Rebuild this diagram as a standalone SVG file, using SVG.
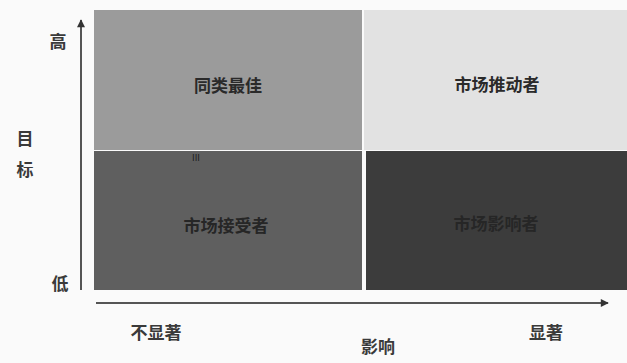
<svg xmlns="http://www.w3.org/2000/svg" width="627" height="363" viewBox="0 0 627 363">
<style>
text{font-family:"Noto Sans CJK SC","Noto Sans CJK JP",sans-serif;fill:#2a2a2a;}
.q{font-size:17px;font-weight:bold;text-anchor:middle;dominant-baseline:central;}
.a{font-size:17px;font-weight:bold;text-anchor:middle;dominant-baseline:central;fill:#3a3a3a;}
.ax{stroke:#555;stroke-width:2;fill:none;}
</style>
<defs>
<marker id="ah" viewBox="0 0 10 10" refX="9" refY="5" markerWidth="14" markerHeight="8" orient="auto" markerUnits="userSpaceOnUse">
<path d="M0,0 L10,5 L0,10 z" fill="#333"/>
</marker>
<marker id="ah2" viewBox="0 0 10 10" refX="9" refY="5" markerWidth="16" markerHeight="8" orient="auto" markerUnits="userSpaceOnUse">
<path d="M0,0 L10,5 L0,10 z" fill="#333"/>
</marker>
</defs>
<rect width="627" height="363" fill="#fafafa"/>
<g id="q-best">
<rect x="94" y="10" width="268" height="140" fill="#9b9b9b"/>
<text class="q" x="228" y="84">同类最佳</text>
</g>
<g id="q-driver">
<rect x="364" y="10" width="263" height="140" fill="#e2e2e2"/>
<text class="q" x="497" y="83">市场推动者</text>
</g>
<g id="q-acceptor">
<rect x="94" y="151" width="268" height="139" fill="#5f5f5f"/>
<text class="q" x="226" y="224" style="fill:#262626">市场接受者</text>
<text x="196" y="157" font-size="9" font-family="Liberation Sans,sans-serif" text-anchor="middle" dominant-baseline="central" style="fill:#1a1a1a">III</text>
</g>
<g id="q-influencer">
<rect x="366" y="151" width="261" height="139" fill="#3c3c3c"/>
<text class="q" x="496" y="222" style="fill:#262626">市场影响者</text>
</g>
<g id="connectors">
<line class="ax" x1="81" y1="290" x2="81" y2="20" marker-end="url(#ah)"/>
<line class="ax" x1="96" y1="303" x2="608" y2="303" marker-end="url(#ah2)"/>
</g>
<g id="labels">
<text class="a" x="58" y="40">高</text>
<text class="a" x="60" y="282">低</text>
<text class="a" x="25" y="137">目</text>
<text class="a" x="25" y="168">标</text>
<text class="a" x="156" y="331">不显著</text>
<text class="a" x="378" y="345">影响</text>
<text class="a" x="546" y="331">显著</text>
</g>
</svg>
